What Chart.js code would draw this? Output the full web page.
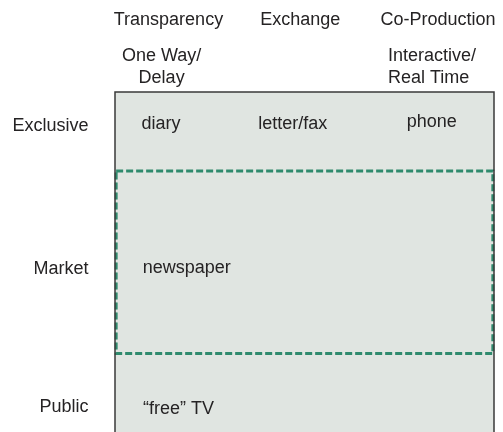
<!DOCTYPE html>
<html>
<head>
<meta charset="utf-8">
<script src="https://cdn.jsdelivr.net/npm/chart.js@4/dist/chart.umd.min.js"></script>
<style>
  html, body { margin: 0; padding: 0; background: #ffffff; }
  #wrap { width: 503px; height: 432px; }
</style>
</head>
<body>
<div id="wrap"><canvas id="c" width="503" height="432"></canvas></div>
<script>
// ---- data (x: 0-100 across the box, y: 0-100 down the box) ----
const columns = ['Transparency', 'Exchange', 'Co-Production'];
const columnX = [14.1, 48.9, 85.2];
const columnY = -19.7;

const modes = [['One Way/', 'Delay'], ['Interactive/', 'Real Time']];
const modeX = [12.3, 72.0];
const modeAlign = ['center', 'left'];
const modeY = -9.1;

const rows = ['Exclusive', 'Market', 'Public'];
const rowY = [11.5, 53.5, 94.1];
const rowX = -7.0;

const media = ['diary', 'letter/fax', 'phone', 'newspaper', '\u201Cfree\u201D TV'];
const mediaX = [7.0, 37.8, 77.0, 7.3, 7.4];
const mediaY = [10.9, 10.9, 10.3, 53.3, 94.7];

const marketBounds = [23.2, 76.9];   // dashed band (Market)
const bandX = [0.3, 99.7];

const FONT = '18px "Liberation Sans", Arial, sans-serif';
const TEXT = '#252324';

const bandPts = [
  {x: bandX[0], y: marketBounds[0]}, {x: bandX[1], y: marketBounds[0]},
  {x: bandX[1], y: marketBounds[1]}, {x: bandX[0], y: marketBounds[1]},
  {x: bandX[0], y: marketBounds[0]}
];

const boxPlugin = {
  id: 'box',
  beforeDatasetsDraw(chart) {
    const {ctx, chartArea: a} = chart;
    ctx.save();
    ctx.fillStyle = '#e0e5e1';
    ctx.fillRect(a.left, a.top, a.right - a.left, a.bottom - a.top);
    ctx.restore();
  },
  afterDatasetsDraw(chart) {
    const {ctx, chartArea: a} = chart;
    const xs = chart.scales.x, ys = chart.scales.y;
    ctx.save();
    ctx.strokeStyle = '#3a3a3a';
    ctx.lineWidth = 1.5;
    ctx.beginPath();
    ctx.moveTo(a.left, a.bottom + 2);
    ctx.lineTo(a.left, a.top);
    ctx.lineTo(a.right, a.top);
    ctx.lineTo(a.right, a.bottom + 2);
    ctx.stroke();

    ctx.fillStyle = TEXT;
    ctx.font = FONT;
    ctx.textBaseline = 'alphabetic';
    // column headers
    ctx.textAlign = 'center';
    columns.forEach((c, i) => ctx.fillText(c, xs.getPixelForValue(columnX[i]), ys.getPixelForValue(columnY)));
    // interaction modes
    modes.forEach((lines, i) => {
      ctx.textAlign = modeAlign[i];
      lines.forEach((t, j) => ctx.fillText(t, xs.getPixelForValue(modeX[i]), ys.getPixelForValue(modeY) + j * 22));
    });
    // row labels
    ctx.textAlign = 'right';
    rows.forEach((r, i) => ctx.fillText(r, xs.getPixelForValue(rowX), ys.getPixelForValue(rowY[i])));
    // media
    ctx.textAlign = 'left';
    const meta = chart.getDatasetMeta(2);
    meta.data.forEach((pt, i) => ctx.fillText(media[i], pt.x, pt.y));
    ctx.restore();
  }
};

new Chart(document.getElementById('c'), {
  type: 'scatter',
  data: {
    datasets: [
      { data: bandPts, showLine: true, borderColor: '#2f8a6d', borderWidth: 3, borderDash: [7, 3],
        pointRadius: 0, fill: false, tension: 0, clip: 4 },
      { data: bandPts, showLine: true, borderColor: '#a3cdbd', borderWidth: 1, borderDash: [7, 3],
        pointRadius: 0, fill: false, tension: 0, clip: 4 },
      { data: media.map((m, i) => ({x: mediaX[i], y: mediaY[i]})), pointRadius: 0, showLine: false }
    ]
  },
  options: {
    responsive: false,
    devicePixelRatio: 1,
    animation: false,
    layout: { padding: { left: 115, top: 92, right: 9, bottom: 0 } },
    plugins: { legend: { display: false }, tooltip: { enabled: false } },
    scales: {
      x: { type: 'linear', min: 0, max: 100, display: false },
      y: { type: 'linear', min: 0, max: 100, reverse: true, display: false }
    }
  },
  plugins: [boxPlugin]
});
</script>
</body>
</html>
